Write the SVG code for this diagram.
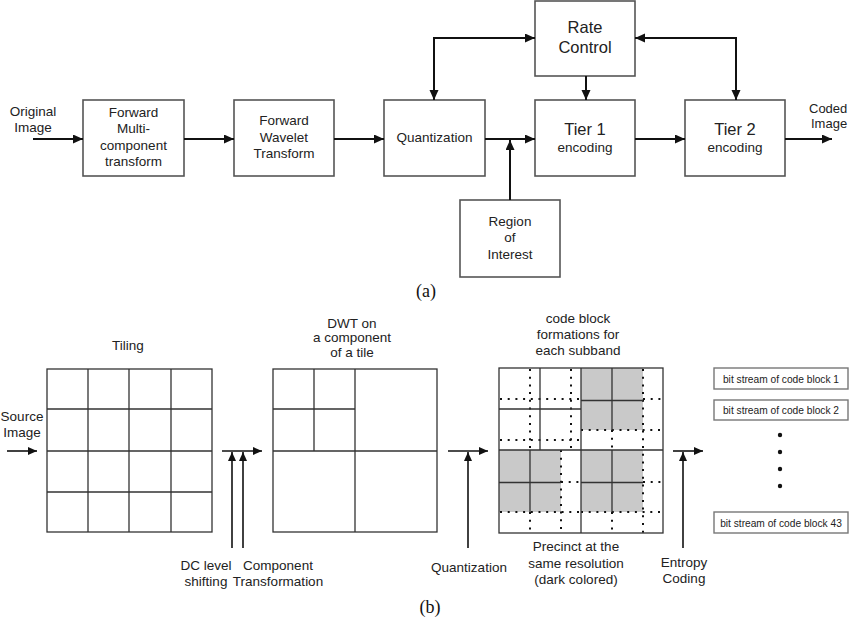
<svg xmlns="http://www.w3.org/2000/svg" width="850" height="621" viewBox="0 0 850 621">
<style>
  .t{font-family:"Liberation Sans",Arial,sans-serif;fill:#222;text-anchor:middle}
  .s13{font-size:13.5px}
  .s16{font-size:16.5px}
  .s10{font-size:10.2px}
  .cap{font-family:"Liberation Serif","Times New Roman",serif;font-size:18px;fill:#111;text-anchor:middle}
  .box{fill:#fff;stroke:#555;stroke-width:1.6}
  .bs{fill:#fff;stroke:#777;stroke-width:1.4}
  .ln{fill:none;stroke:#111;stroke-width:2}
  .lb{fill:none;stroke:#111;stroke-width:1.6}
  .g{fill:none;stroke:#333;stroke-width:1.3}
  .gray{fill:#c9c9c9;stroke:none}
  .dot{fill:none;stroke:#111;stroke-width:2;stroke-dasharray:2 5.7}
</style>
<defs>
  <marker id="ah" markerUnits="userSpaceOnUse" markerWidth="11" markerHeight="10" refX="10" refY="4.5" orient="auto-start-reverse">
    <path d="M0,0 L10,4.5 L0,9 z" fill="#111"/>
  </marker>
  <marker id="as" markerUnits="userSpaceOnUse" markerWidth="10" markerHeight="9" refX="9" refY="4" orient="auto-start-reverse">
    <path d="M0,0 L9,4 L0,8 z" fill="#111"/>
  </marker>
</defs>

<!-- (a) nodes -->
<g id="orig"><text class="t s13" x="33" y="116">Original</text><text class="t s13" x="33" y="132">Image</text></g>
<g id="fmct"><rect class="box" x="83" y="100" width="101" height="76"/>
  <text class="t s13" x="133.5" y="117">Forward</text><text class="t s13" x="133.5" y="133">Multi-</text><text class="t s13" x="133.5" y="150">component</text><text class="t s13" x="133.5" y="166">transform</text></g>
<g id="fwt"><rect class="box" x="234" y="100" width="100" height="76"/>
  <text class="t s13" x="284" y="125">Forward</text><text class="t s13" x="284" y="142">Wavelet</text><text class="t s13" x="284" y="158">Transform</text></g>
<g id="quant"><rect class="box" x="384" y="100" width="101" height="76"/>
  <text class="t s13" x="434.5" y="142">Quantization</text></g>
<g id="rate"><rect class="box" x="535" y="1" width="100" height="75"/>
  <text class="t s16" x="585" y="33">Rate</text><text class="t s16" x="585" y="53">Control</text></g>
<g id="tier1"><rect class="box" x="535" y="100" width="100" height="76"/>
  <text class="t s16" x="585" y="135">Tier 1</text><text class="t s13" x="585" y="152">encoding</text></g>
<g id="tier2"><rect class="box" x="685" y="100" width="100" height="76"/>
  <text class="t s16" x="735" y="135">Tier 2</text><text class="t s13" x="735" y="152">encoding</text></g>
<g id="roi"><rect class="box" x="460" y="200" width="100" height="77"/>
  <text class="t s13" x="510" y="226">Region</text><text class="t s13" x="510" y="242">of</text><text class="t s13" x="510" y="259">Interest</text></g>
<g id="coded"><text class="t" x="809" y="113" style="text-anchor:start;font-size:13px">Coded</text><text class="t" x="811" y="128" style="text-anchor:start;font-size:13px">Image</text></g>
<text class="cap" x="426" y="297">(a)</text>

<!-- (b) nodes -->
<g id="tiling">
  <text class="t s13" x="128" y="350">Tiling</text>
  <rect class="g" x="47" y="369" width="165" height="163" fill="#fff"/>
  <path class="g" d="M88,369V532M129,369V532M171,369V532M47,409H212M47,451H212M47,492H212"/>
</g>
<g id="source"><text class="t s13" x="22" y="421">Source</text><text class="t s13" x="22" y="437">Image</text></g>
<g id="dwt">
  <text class="t s13" x="352" y="328">DWT on</text><text class="t s13" x="352" y="342">a component</text><text class="t s13" x="352" y="357">of a tile</text>
  <rect class="g" x="273" y="369" width="164" height="163" fill="#fff"/>
  <path class="g" d="M355,369V532M273,451H437M314,369V451M273,409H355"/>
</g>
<g id="codeblock">
  <text class="t s13" x="578" y="323">code block</text><text class="t s13" x="578" y="339">formations for</text><text class="t s13" x="578" y="355">each subband</text>
  <rect x="499" y="368" width="164" height="165" fill="#fff"/>
  <rect class="gray" x="581" y="368" width="62" height="62"/>
  <rect class="gray" x="499" y="450" width="62" height="62"/>
  <rect class="gray" x="581" y="450" width="62" height="62"/>
  <path class="dot" d="M530,369V450M571,369V450M500,399H581M500,440H581M643,369V533M612,430V450M643,399H663M581,430H663M561,450V533M530,512V533M561,482H581M500,512H581M612,512V533M643,482H663M581,512H663"/>
  <path class="g" d="M581,368V533M499,450H663M540,368V450M499,409H581M612,368V430M581,400.5H643M530,450V512M499,482.5H561M612,450V512M581,482.5H643"/>
  <rect class="g" x="499" y="368" width="164" height="165"/>
  <text class="t s13" x="576" y="551">Precinct at the</text><text class="t s13" x="576" y="568">same resolution</text><text class="t s13" x="576" y="584">(dark colored)</text>
</g>
<g id="dc"><text class="t s13" x="206" y="570">DC level</text><text class="t s13" x="206" y="586">shifting</text></g>
<g id="ct"><text class="t s13" x="278" y="570">Component</text><text class="t s13" x="278" y="586">Transformation</text></g>
<g id="qb"><text class="t s13" x="469" y="572">Quantization</text></g>
<g id="ent"><text class="t s13" x="684" y="567">Entropy</text><text class="t s13" x="684" y="583">Coding</text></g>
<g id="bitstreams">
  <rect class="bs" x="714" y="368" width="134" height="21"/><text class="t s10" x="781" y="383">bit stream of code block 1</text>
  <rect class="bs" x="714" y="400" width="134" height="20"/><text class="t s10" x="781" y="414">bit stream of code block 2</text>
  <circle cx="780" cy="435" r="2.2" fill="#111"/><circle cx="780" cy="452" r="2.2" fill="#111"/><circle cx="780" cy="469" r="2.2" fill="#111"/><circle cx="780" cy="486" r="2.2" fill="#111"/>
  <rect class="bs" x="714" y="512" width="134" height="21"/><text class="t s10" x="781" y="527">bit stream of code block 43</text>
</g>
<text class="cap" x="430" y="613">(b)</text>

<!-- connectors -->
<g id="connectors">
  <path class="ln" d="M33,139H83" marker-end="url(#ah)"/>
  <path class="ln" d="M184,139H234" marker-end="url(#ah)"/>
  <path class="ln" d="M334,139H384" marker-end="url(#ah)"/>
  <path class="ln" d="M485,139H535" marker-end="url(#ah)"/>
  <path class="ln" d="M635,139H685" marker-end="url(#ah)"/>
  <path class="ln" d="M785,139H832" marker-end="url(#ah)"/>
  <path class="ln" d="M510,200V140" marker-end="url(#ah)"/>
  <path class="ln" d="M434,100V38H535" marker-start="url(#ah)" marker-end="url(#ah)"/>
  <path class="ln" d="M635,38H736V100" marker-start="url(#ah)" marker-end="url(#ah)"/>
  <path class="ln" d="M586,76V100" marker-end="url(#ah)"/>

  <path class="lb" d="M7,451H37" marker-end="url(#as)"/>
  <path class="lb" d="M222,451H262" marker-end="url(#as)"/>
  <path class="lb" d="M232,548V452" marker-end="url(#as)"/>
  <path class="lb" d="M243,548V452" marker-end="url(#as)"/>
  <path class="lb" d="M448,451H488" marker-end="url(#as)"/>
  <path class="lb" d="M468,548V452" marker-end="url(#as)"/>
  <path class="lb" d="M673,451H703" marker-end="url(#as)"/>
  <path class="lb" d="M683,548V452" marker-end="url(#as)"/>
</g>
</svg>
